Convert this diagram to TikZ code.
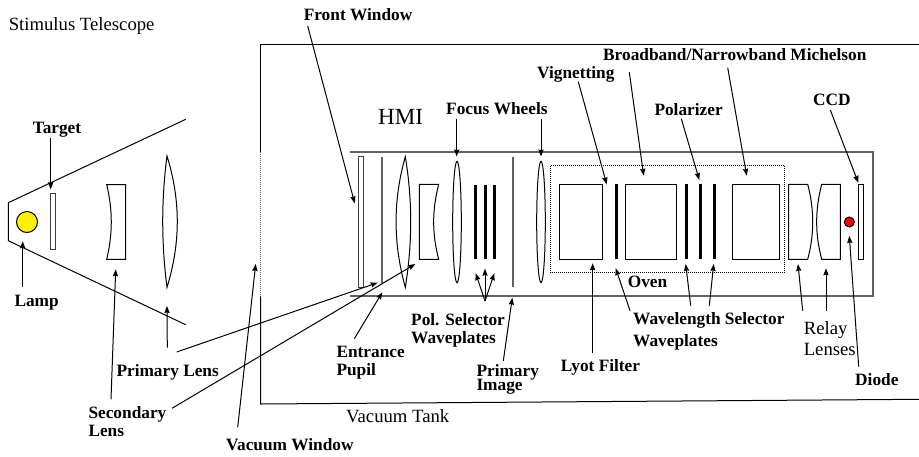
\documentclass[tikz,border=0pt]{standalone}
\usepackage{fontspec}
\setmainfont{Liberation Serif}
\usetikzlibrary{arrows.meta}

\begin{document}
\begin{tikzpicture}[
  x=1pt,y=-1pt,
  line width=1pt,
  tag/.style={anchor=base west,inner sep=0pt,align=left,font=\fontsize{17.3}{18}\selectfont\bfseries},
  note/.style={anchor=base west,inner sep=0pt,align=left,font=\fontsize{18.7}{21.4}\selectfont},
  part/.style={draw,inner sep=0pt,minimum width=#1},
  wall/.style={draw=black!62,line width=1.3pt},
  plate/.style={line width=3pt},
  pointer/.style={-{Stealth[length=7pt,width=5.2pt,inset=0.7pt]}}
]
\useasboundingbox (0,0) rectangle (919,456);

% telescope on the left
\draw (185.7,119.3) -- (8.3,202.7) -- (8.3,240.7) -- (185.7,324.7);
\node[part=21pt,circle,fill=yellow] (lamp) at (27,222) {};
\node[part=5pt,minimum height=56.3pt,draw=black!75] (target) at (52.8,221.8) {};
\draw (106.7,184.7) -- (125.7,184.7) -- (125.7,259.3) -- (106.7,259.3)
  .. controls (112.8,234) and (112.8,210) .. cycle;
\draw (167,156) .. controls (161.3,200) and (161.3,243) .. (167,287.3)
  .. controls (180.7,243) and (180.7,200) .. cycle;

% vacuum tank
\draw (919,44.3) -- (260.7,44.3) -- (260.7,151.7);
\draw[densely dotted,black!60] (260.7,151.7) -- (260.7,296.7);
\draw (260.7,296.7) -- (260.7,404) -- (919,399.3);

% instrument box
\draw[wall] (350,152) -- (873,152) -- (873,296) -- (350,296);
\node[part=4.7pt,minimum height=131.3pt,draw=black!75] (frontwin) at (361.3,221.7) {};
\draw[wall] (382,156.7) -- (382,282.7);
\draw (405.3,156.7) .. controls (393,200) and (393,243) .. (405.3,287.3)
  .. controls (412.5,243) and (412.5,200) .. cycle;
\draw (438.7,184.3) -- (419.3,184.3) -- (419.3,259.3) -- (438.7,259.3)
  .. controls (432,234) and (432,210) .. cycle;
\draw (457,222) ellipse (4.3 and 60.7);
\foreach \x in {475.7,485,494.3}
  \draw[plate] (\x,185) -- (\x,259.3);
\draw[wall] (513,156.7) -- (513,286.7);
\draw (541,222) ellipse (4.3 and 60.7);

% oven and what is in it
\draw[densely dotted] (550.7,165.7) rectangle (784.3,272.7);
\node[part=42.7pt,minimum height=74.7pt] (lyot) at (580.7,221.7) {};
\draw[plate] (616,184.3) -- (616,259.3);
\node[part=51.4pt,minimum height=74.7pt] (broad) at (651,221.7) {};
\foreach \x in {686,700,714}
  \draw[plate] (\x,184.3) -- (\x,259.3);
\node[part=46.6pt,minimum height=74.7pt] (michelson) at (756,221.7) {};

% relay lenses, diode, ccd
\draw (807.7,184.3) -- (788.7,184.3) -- (788.7,259.3) -- (807.7,259.3)
  .. controls (814.4,234) and (814.4,210) .. cycle;
\draw (821.7,184.3) -- (840.3,184.3) -- (840.3,259.3) -- (821.7,259.3)
  .. controls (815,234) and (815,210) .. cycle;
\node[part=10pt,circle,fill=red] (diode) at (849.3,222) {};
\node[part=5.4pt,minimum height=74.7pt] (ccd) at (861,221.7) {};

% texts
\node[note] (stimulus) at (8.3,30.7) {Stimulus Telescope};
\node[note,font=\fontsize{23.1}{24}\selectfont] (hmi) at (377.7,124.3) {HMI};
\node[note] (tank) at (345.7,422.7) {Vacuum Tank};
\node[note] (relay) at (803.3,355.7) {Relay\\Lenses};
\node[tag] (ttarget) at (32.3,133.3) {Target};
\node[tag] (tlamp) at (14,306.7) {Lamp};
\node[tag] (tprimary) at (116,376) {Primary Lens};
\node[tag] (tsecondary) at (88,436.7) {Secondary\\Lens};
\node[tag] (tvacuum) at (225.7,450.7) {Vacuum Window};
\node[tag] (tfront) at (303.3,20.7) {Front Window};
\node[tag] (tfocus) at (445.7,114.3) {Focus Wheels};
\node[tag] (tvignet) at (536.7,78.3) {Vignetting};
\node[tag] (tbroad) at (602.7,60.7) {Broadband/Narrowband Michelson};
\node[tag] (tpolar) at (654,115) {Polarizer};
\node[tag] (tccd) at (812.7,105) {CCD};
\node[tag] (tentrance) at (336,375) {Entrance\\Pupil};
\node[tag] (tpol) at (410.7,343.3) {Pol. Selector\\Waveplates};
\node[tag] (timage) at (476,390.3) {Primary\\[-3.7pt]Image};
\node[tag] (tlyot) at (560.3,371.7) {Lyot Filter};
\node[tag] (twave) at (632.7,346) {Wavelength Selector\\[3.3pt]Waveplates};
\node[tag] (toven) at (627.3,287) {Oven};
\node[tag] (tdiode) at (854.7,385.7) {Diode};

% ends of the pointers
\foreach \n/\x/\y in {a1/50.7/138.3, a2/50.7/189.3, b1/22.7/286.7, b2/22.7/241.3,
    c1/167.3/347.7, c2/167/306, d1/111/399.3, d2/115.7/269.3,
    e1/237.7/427.3, e2/255.7/264, f1/176.7/352, f2/377.7/282.7,
    g1/172/408.3, g2/415.3/264, h1/354.3/338.7, h2/382.3/292.3,
    i1/307.7/26, i2/354.7/203.3, j1/456.7/119.3, j2/456.7/156.5,
    k1/541/119.3, k2/541/156.5, l0/485/301, l1/475.7/273.3, l2/485/268.7, l3/494.3/273.3,
    m1/503.3/361, m2/512.3/297.7, n1/578.3/81.7, n2/606.7/184.3,
    o1/629.3/72.3, o2/643.7/175.7, p1/681.3/118.7, p2/699.3/180,
    q1/727.7/67.7, q2/746.7/175.7, r1/830.3/110, r2/858.3/182.7,
    s1/592.7/352.7, s2/592.7/263.3, t1/630/310.7, t2/615.7/268.3,
    u1/690.7/305.7, u2/685.7/264, v1/709.3/305.7, v2/713.7/264,
    w1/802.7/310.7, w2/798/264, x1/826/310.7, x2/826/268.3,
    y1/858.7/366.7, y2/849.3/236}
  \coordinate (\n) at (\x,\y);

% pointers
\foreach \from/\to in {a1/a2, b1/b2, c1/c2, d1/d2, e1/e2, f1/f2, g1/g2, h1/h2,
    i1/i2, j1/j2, k1/k2, l0/l1, l0/l2, l0/l3, m1/m2, n1/n2, o1/o2, p1/p2, q1/q2,
    r1/r2, s1/s2, t1/t2, u1/u2, v1/v2, w1/w2, x1/x2, y1/y2}
  \draw[pointer] (\from) -- (\to);
\end{tikzpicture}
\end{document}
